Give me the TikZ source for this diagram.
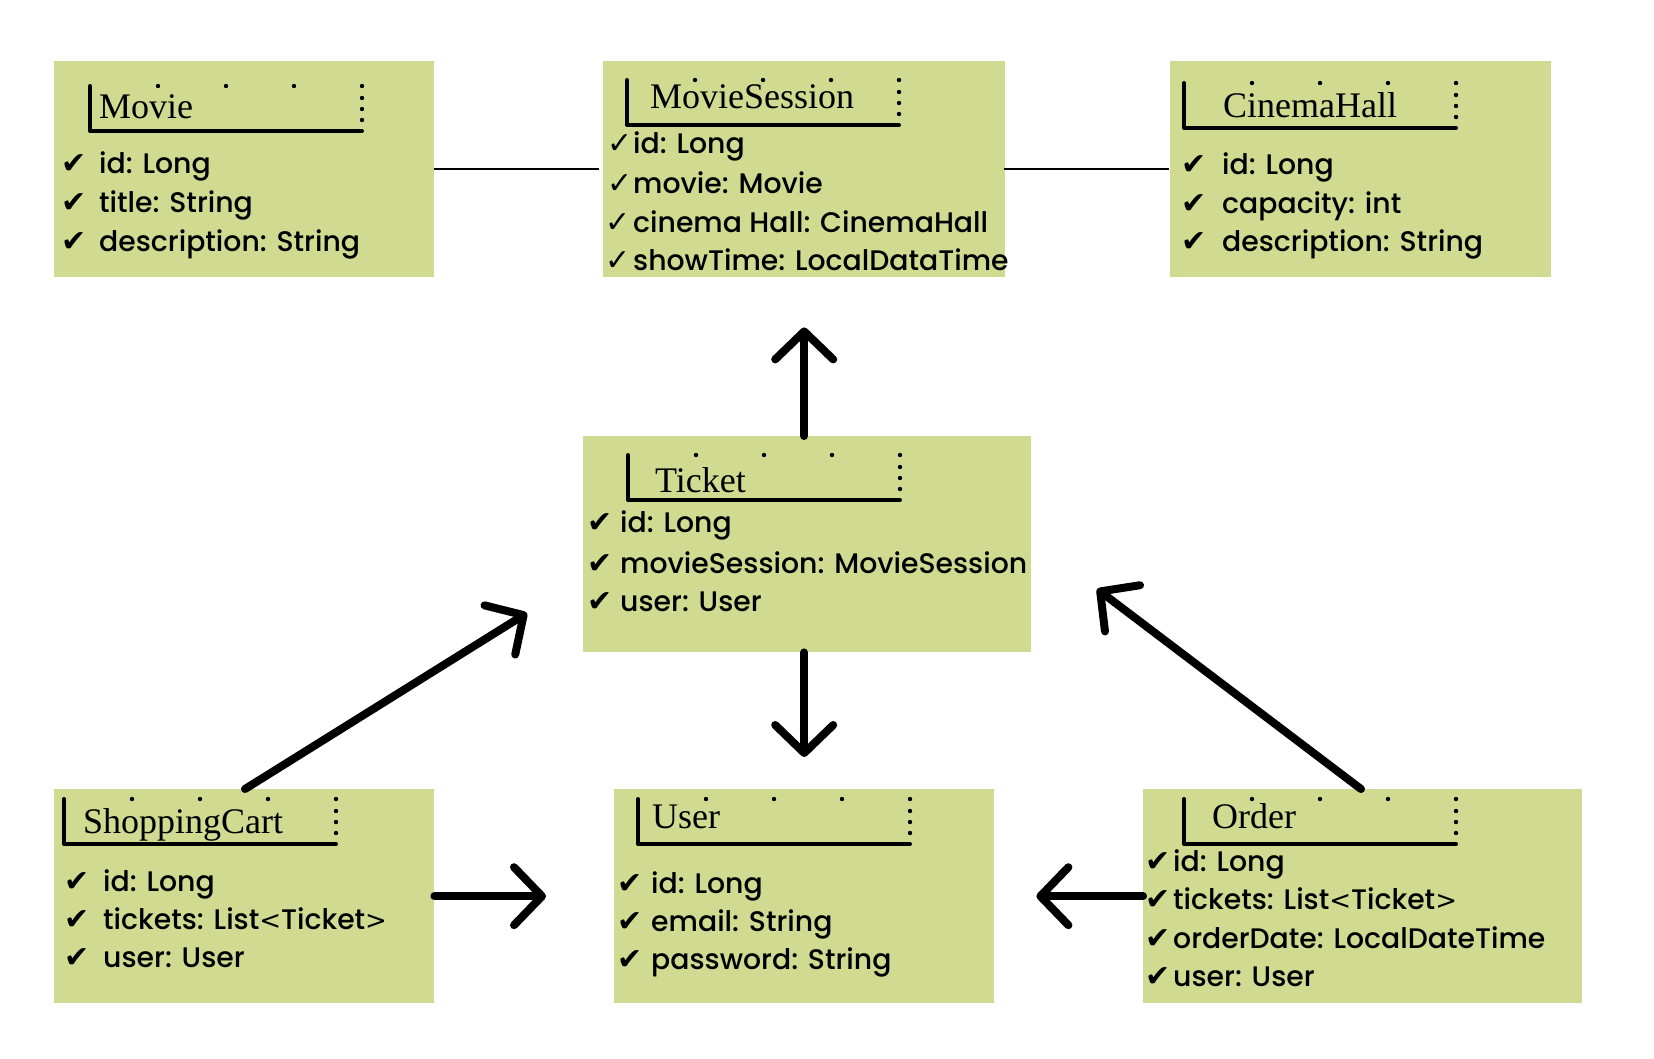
\documentclass[tikz,border=0pt]{standalone}
\usepackage{fontspec}
\usetikzlibrary{arrows.meta,calc}
\newfontfamily\attrfont{Poppins Medium}
\newfontfamily\chkfont{DejaVu Sans}
\newfontfamily\titlefont{Liberation Serif}
\newcommand{\lt}{{\chkfont\fontsize{26}{34}\selectfont <}}
\newcommand{\gt}{{\chkfont\fontsize{26}{34}\selectfont >}}
\definecolor{boxfill}{RGB}{208,218,144}
\tikzset{
  box/.style={fill=boxfill, draw=none, inner sep=0pt, anchor=north west},
  titletext/.style={anchor=base west, inner sep=0pt, font=\titlefont\fontsize{36}{40}\selectfont},
  attrtext/.style={anchor=base west, inner sep=0pt, font=\attrfont\fontsize{28.3}{34}\selectfont},
  chkmark/.style={anchor=base west, inner sep=0pt, font=\chkfont\fontsize{30}{34}\selectfont},
  brk/.style={line width=4pt, line cap=round, line join=round},
  thinconn/.style={line width=2.5pt},
  thickarrow/.style={line width=8pt, line cap=round, -{Straight Barb[length=28pt,width=58pt,round]}},
}
\newcommand{\umlhead}[2]{%
  \draw[brk] (#1,#2) -- (#1,#2+45) -- (#1+272,#2+45);
  \foreach \dx in {68,136,204} \fill (#1+\dx,#2) circle (2.2pt);
  \foreach \dy in {0,12,23,34} \fill (#1+272,#2+\dy) circle (2.2pt);
}
\newcommand{\attr}[6]{% name, checkx, textx, y, glyph, text
  \node[chkmark] (#1c) at (#2,#4) {#5};
  \node[attrtext] (#1) at (#3,#4) {#6};
}
\begin{document}
\begin{tikzpicture}[x=1pt,y=-1pt]
\useasboundingbox (0,0) rectangle (1654,1058);
\fill[white] (0,0) rectangle (1654,1058);

% boxes
\node[box, minimum width=380pt, minimum height=216pt] (movie) at (54,61) {};
\node[box, minimum width=402pt, minimum height=216pt] (ms) at (603,61) {};
\node[box, minimum width=381pt, minimum height=216pt] (ch) at (1170,61) {};
\node[box, minimum width=448pt, minimum height=216pt] (ticket) at (583,436) {};
\node[box, minimum width=380pt, minimum height=214pt] (sc) at (54,789) {};
\node[box, minimum width=380pt, minimum height=214pt] (user) at (614,789) {};
\node[box, minimum width=439pt, minimum height=214pt] (order) at (1143,789) {};

% headers
\umlhead{90}{86}
\umlhead{627}{80}
\umlhead{1184}{83}
\umlhead{628}{455}
\umlhead{64}{799}
\umlhead{638}{799}
\umlhead{1184}{799}

% titles
\node[titletext] (movie-t) at (99,118) {Movie};
\node[titletext] (ms-t) at (650,108) {MovieSession};
\node[titletext] (ch-t) at (1223,117) {CinemaHall};
\node[titletext] (ticket-t) at (655,492) {Ticket};
\node[titletext] (sc-t) at (83,833) {ShoppingCart};
\node[titletext] (user-t) at (652,828) {User};
\node[titletext] (order-t) at (1212,828) {Order};

% attributes
\attr{mv1}{61}{99}{173}{✔}{id: Long}
\attr{mv2}{61}{99}{212}{✔}{title: String}
\attr{mv3}{61}{99}{251}{✔}{description: String}

\attr{ms1}{607}{633}{153}{✓}{id: Long}
\attr{ms2}{607}{633}{193}{✓}{movie: Movie}
\attr{ms3}{605}{633}{232}{✓}{cinema Hall: CinemaHall}
\attr{ms4}{605}{633}{270}{✓}{showTime: LocalDataTime}

\attr{ch1}{1181}{1222}{174}{✔}{id: Long}
\attr{ch2}{1181}{1222}{213}{✔}{capacity: int}
\attr{ch3}{1181}{1222}{251}{✔}{description: String}

\attr{tk1}{587}{620}{532}{✔}{id: Long}
\attr{tk2}{587}{620}{573}{✔}{movieSession: MovieSession}
\attr{tk3}{587}{620}{611}{✔}{user: User}

\attr{sc1}{64}{103}{891}{✔}{id: Long}
\attr{sc2}{64}{103}{929}{✔}{tickets: List\lt Ticket\gt}
\attr{sc3}{64}{103}{967}{✔}{user: User}

\attr{us1}{617}{651}{893}{✔}{id: Long}
\attr{us2}{617}{651}{931}{✔}{email: String}
\attr{us3}{617}{651}{969}{✔}{password: String}

\attr{or1}{1145}{1173}{871}{✔}{id: Long}
\attr{or2}{1145}{1173}{909}{✔}{tickets: List\lt Ticket\gt}
\attr{or3}{1145}{1173}{948}{✔}{orderDate: LocalDateTime}
\attr{or4}{1145}{1173}{986}{✔}{user: User}

% thin connectors
\draw[thinconn, shorten >=4pt] (movie.east) -- (ms.west);
\draw[thinconn, shorten <=-1pt, shorten >=1pt] (ms.east) -- (ch.west);

% free ends
\coordinate (sctip) at (527,613);
\coordinate (ordtip) at (1097,589);

% thick arrows
\draw[thickarrow, shorten >=50pt] (ms.south |- ticket.north) -- (ms.south);
\draw[thickarrow, shorten >=32pt] (user.north |- ticket.south) -- (user.north);
\draw[thickarrow, shorten >=68pt] (sc.east) -- (sc.east -| user.west);
\draw[thickarrow, shorten >=42pt] (order.west) -- (order.west -| user.east);
\draw[thickarrow] ([xshift=191pt]sc.north west) -- (sctip);
\draw[thickarrow] ([xshift=218pt]order.north west) -- (ordtip);
\end{tikzpicture}
\end{document}
